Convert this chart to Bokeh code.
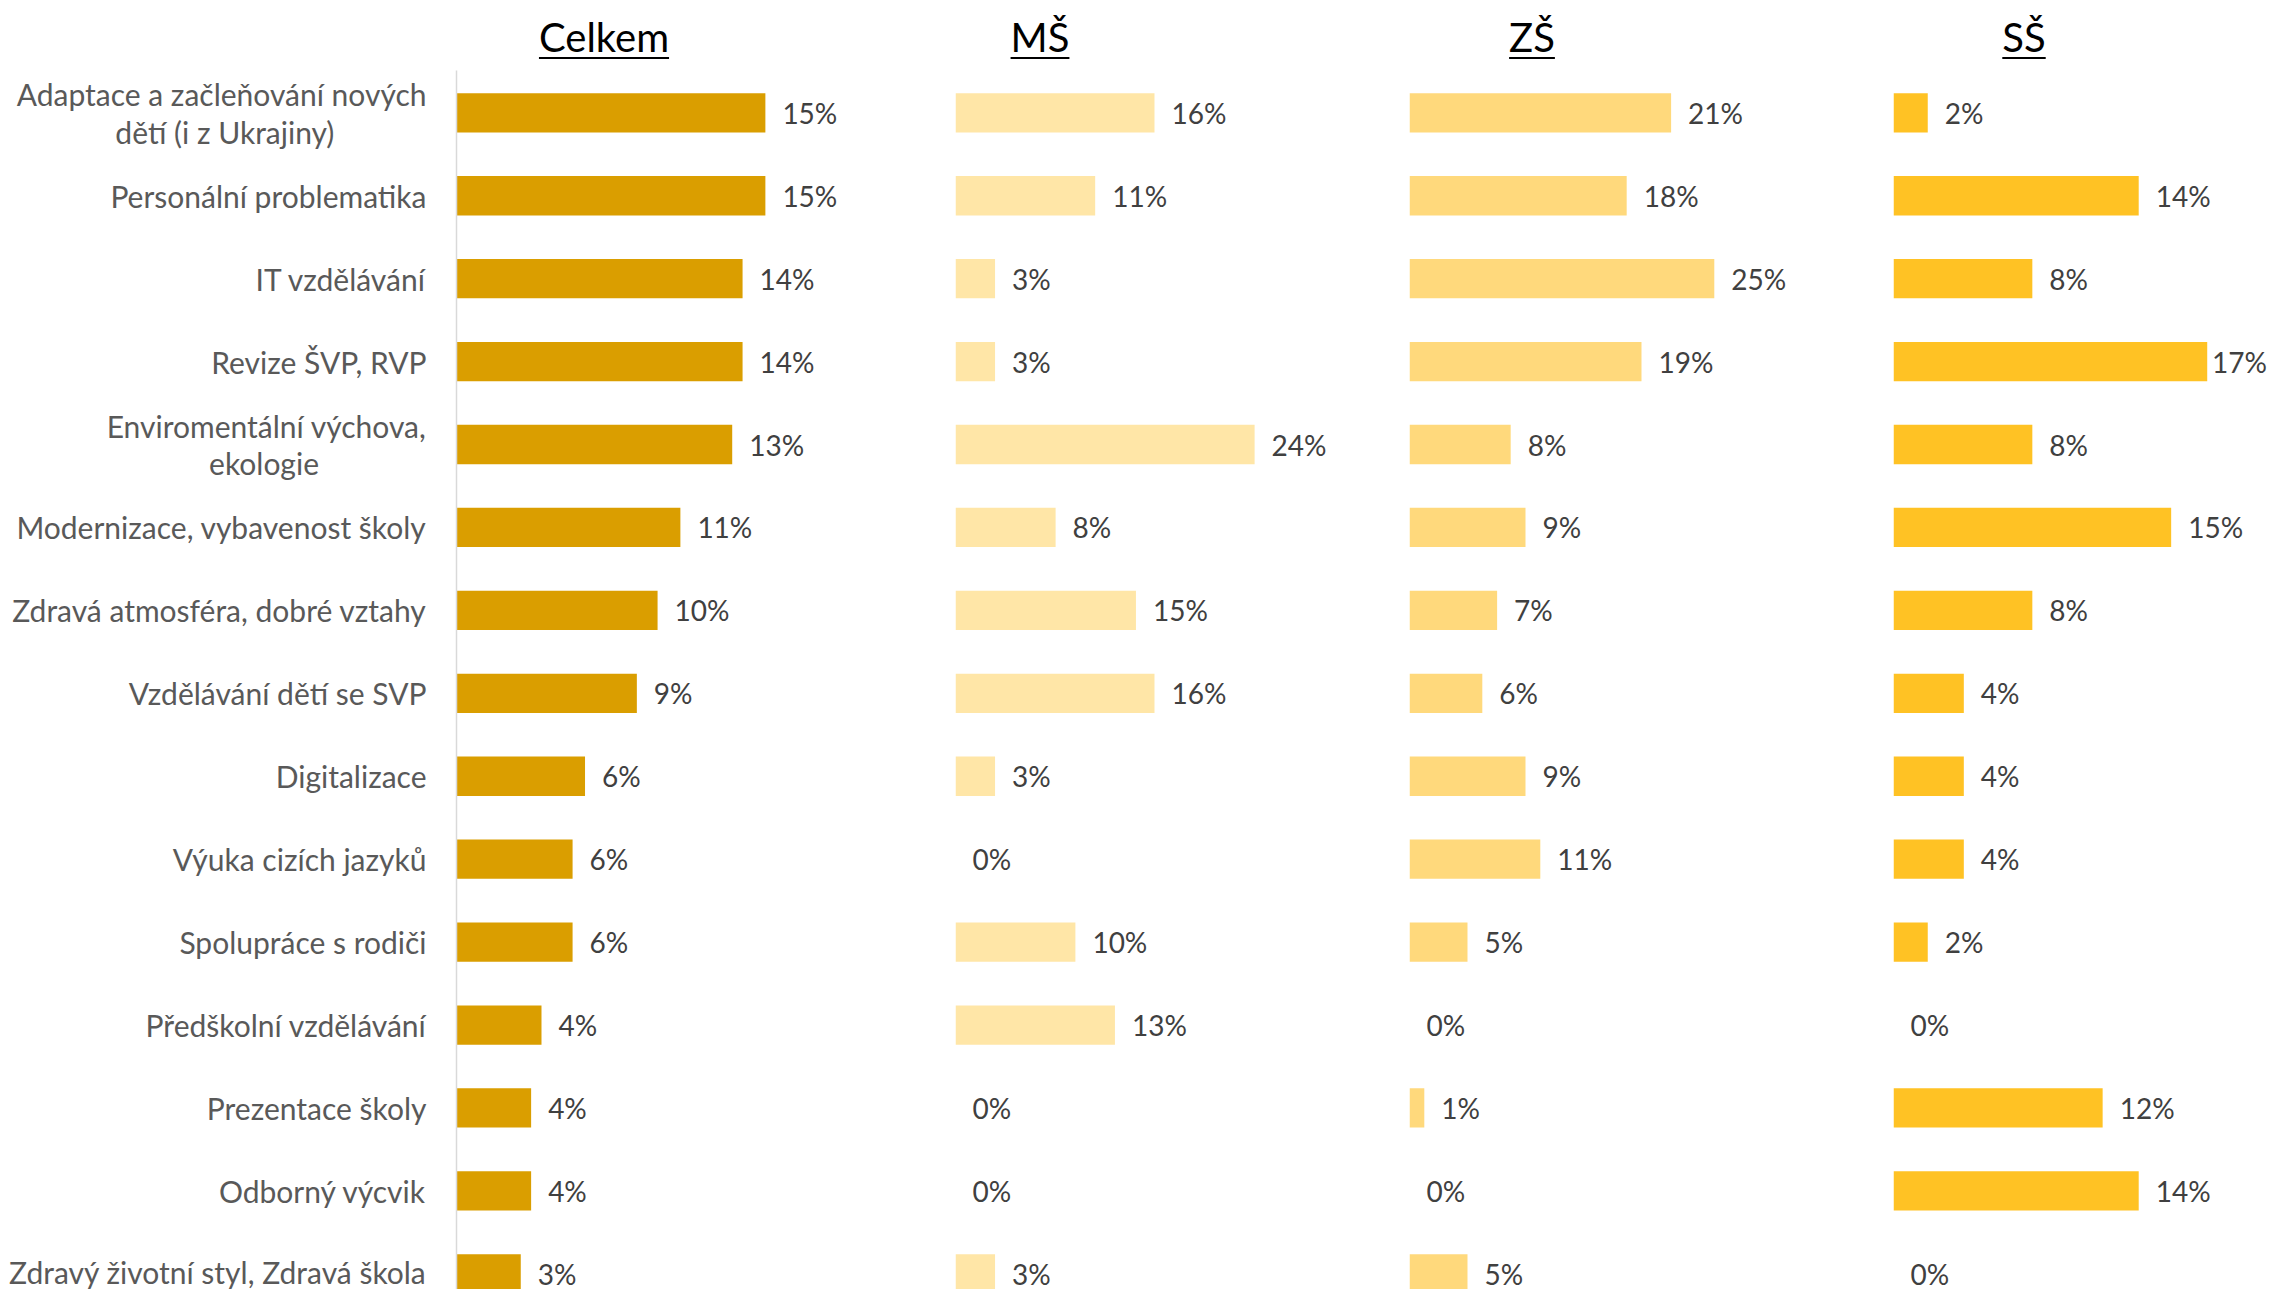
from bokeh.plotting import figure
from bokeh.models import Range1d, FixedTicker, Div, ColumnDataSource
from bokeh.layouts import row, column
from bokeh.embed import file_html
from bokeh.resources import INLINE
from bokeh.core.properties import value

# ---------------- data ----------------
categories = [
    "Adaptace a začleňování nových\ndětí (i z Ukrajiny)",
    "Personální problematika",
    "IT vzdělávání",
    "Revize ŠVP, RVP",
    "Enviromentální výchova,\nekologie",
    "Modernizace, vybavenost školy",
    "Zdravá atmosféra, dobré vztahy",
    "Vzdělávání dětí se SVP",
    "Digitalizace",
    "Výuka cizích jazyků",
    "Spolupráce s rodiči",
    "Předškolní vzdělávání",
    "Prezentace školy",
    "Odborný výcvik",
    "Zdravý životní styl, Zdravá škola",
]
celkem = [14.9, 14.9, 13.8, 13.8, 13.3, 10.8, 9.7, 8.7, 6.2, 5.6, 5.6, 4.1, 3.6, 3.6, 3.1]
ms = [16.1, 11.3, 3.2, 3.2, 24.2, 8.1, 14.6, 16.1, 3.2, 0, 9.7, 12.9, 0, 0, 3.2]
zs = [21.2, 17.6, 24.7, 18.8, 8.2, 9.4, 7.1, 5.9, 9.4, 10.6, 4.7, 0, 1.2, 0, 4.7]
ss = [1.9, 13.6, 7.7, 17.4, 7.7, 15.4, 7.7, 3.9, 3.9, 3.9, 1.9, 0, 11.6, 13.6, 0]
panel_titles = ["Celkem", "MŠ", "ZŠ", "SŠ"]

# ---------------- styling ----------------
FONT = "Lato"
FS = 28          # value labels
FS_CAT = 30      # category labels
FRAME_H = 1219
HEADER_H = 70
LEFT_AXIS = 456
ROW_IDX = list(range(len(categories)))

panels = [
    # values, color, frame width, px per percent
    (celkem, "#DA9E00", 499, 20.73),
    (ms, "#FFE6A7", 454, 12.36),
    (zs, "#FFD97C", 484, 12.34),
    (ss, "#FFC224", 379, 18.03),
]

# second lines of two-line labels are centred under the first line in the
# reference; emulate with non-breaking-space padding (count per label index)
SECOND_LINE_PAD = {0: 12, 4: 14}


def axis_label(i, text):
    lines = text.split("\n")
    if len(lines) == 1:
        return text
    pad = "\u00a0" * SECOND_LINE_PAD.get(i, 0)
    return lines[0] + "\n" + lines[1] + pad


def make_panel(vals, color, fw, scale, first):
    p = figure(
        frame_width=fw, frame_height=FRAME_H,
        x_range=Range1d(0, fw / scale),
        y_range=Range1d(14.189, -0.51),
        output_backend="svg", toolbar_location=None,
        x_axis_location=None,
        y_axis_location="left" if first else None,
        min_border_left=LEFT_AXIS if first else 0,
        min_border_right=0, min_border_top=0, min_border_bottom=0,
        outline_line_color=None, background_fill_color="white",
        border_fill_color="white",
    )
    p.grid.visible = False
    labels = [f"{round(v)}%" for v in vals]
    offsets = []
    for v, lab in zip(vals, labels):
        avail = fw - v * scale - 0.72 * FS * len(lab)
        offsets.append(max(2, min(17, avail)))
    src = ColumnDataSource(dict(y=ROW_IDX, v=vals, lab=labels, off=offsets))
    p.hbar(y="y", left=0, right="v", height=0.474, source=src,
           fill_color=color, line_color=None)
    p.text(x="v", y="y", text="lab", x_offset="off", source=src,
           text_align="left", text_baseline="middle",
           text_font=value(FONT), text_font_size=f"{FS}px",
           text_color="#404040")
    if first:
        ax = p.yaxis[0]
        ax.ticker = FixedTicker(ticks=ROW_IDX)
        ax.major_label_overrides = {i: axis_label(i, c) for i, c in zip(ROW_IDX, categories)}
        ax.major_tick_line_color = None
        ax.minor_tick_line_color = None
        ax.axis_line_color = "#D9D9D9"
        ax.axis_line_width = 1.5
        ax.major_label_standoff = 24
        ax.major_label_text_font = FONT
        ax.major_label_text_font_size = f"{FS_CAT}px"
        ax.major_label_text_color = "#595959"
        ax.major_label_text_line_height = 1.05
    return p


figs = [make_panel(v, c, fw, s, i == 0) for i, (v, c, fw, s) in enumerate(panels)]

total_w = sum(f.frame_width for f in figs) + LEFT_AXIS
centers = [604, 1040, 1532, 2024]
spans = "".join(
    f'<span style="position:absolute;left:{c - 150}px;width:300px;top:17px;'
    f'text-align:center;font-family:{FONT};font-size:40px;line-height:40px;'
    f'color:#000;text-decoration:underline;text-decoration-thickness:2px;'
    f'text-underline-offset:5px;">{t}</span>'
    for t, c in zip(panel_titles, centers)
)
header = Div(
    text=f'<div style="position:relative;width:{total_w}px;height:{HEADER_H}px;">{spans}</div>',
    width=total_w, height=HEADER_H, margin=(0, 0, 0, 0),
)

layout = column(header, row(*figs, spacing=0), spacing=0)

open("out.html", "w").write(file_html(layout, INLINE))
